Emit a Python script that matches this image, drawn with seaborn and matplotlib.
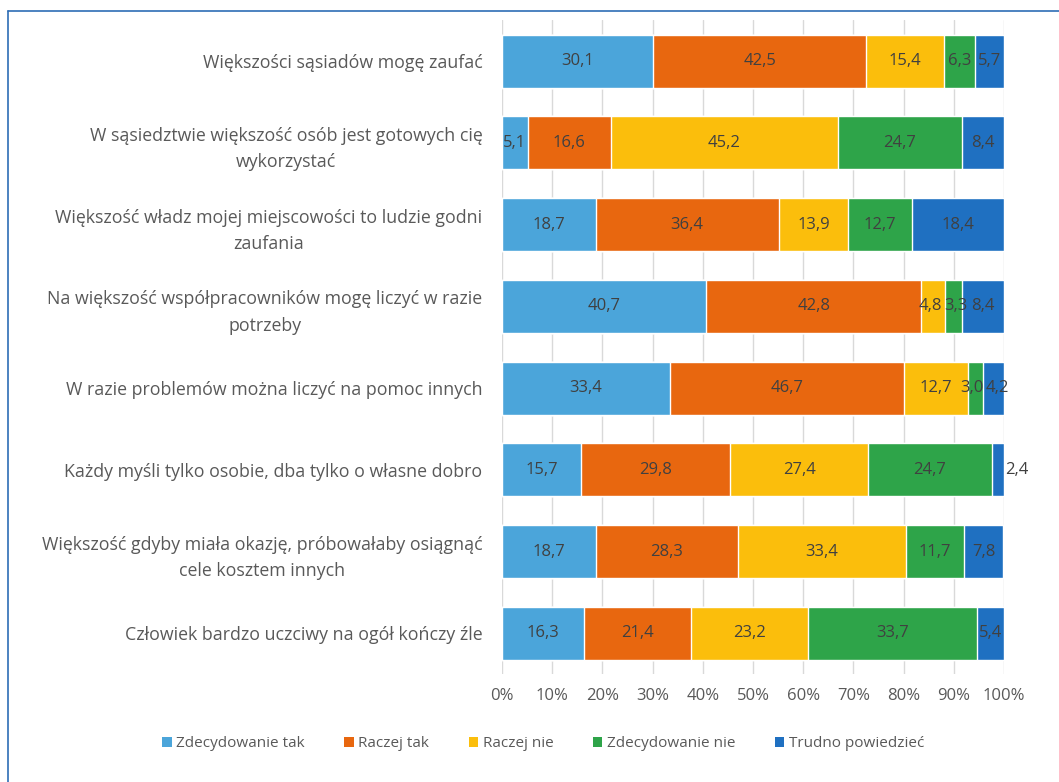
import numpy as np
import pandas as pd
import matplotlib
matplotlib.use("Agg")
import matplotlib.pyplot as plt
import seaborn as sns
from matplotlib.patches import Patch
from matplotlib.lines import Line2D

categories = [
    "Większości sąsiadów mogę zaufać",
    "W sąsiedztwie większość osób jest gotowych cię\nwykorzystać",
    "Większość władz mojej miejscowości to ludzie godni\nzaufania",
    "Na większość współpracowników mogę liczyć w razie\npotrzeby",
    "W razie problemów można liczyć na pomoc innych",
    "Każdy myśli tylko osobie, dba tylko o własne dobro",
    "Większość gdyby miała okazję, próbowałaby osiągnąć\ncele kosztem innych",
    "Człowiek bardzo uczciwy na ogół kończy źle",
]
series_names = ["Zdecydowanie tak", "Raczej tak", "Raczej nie", "Zdecydowanie nie", "Trudno powiedzieć"]
zdecydowanie_tak = [30.1, 5.1, 18.7, 40.7, 33.4, 15.7, 18.7, 16.3]
raczej_tak = [42.5, 16.6, 36.4, 42.8, 46.7, 29.8, 28.3, 21.4]
raczej_nie = [15.4, 45.2, 13.9, 4.8, 12.7, 27.4, 33.4, 23.2]
zdecydowanie_nie = [6.3, 24.7, 12.7, 3.3, 3.0, 24.7, 11.7, 33.7]
trudno = [5.7, 8.4, 18.4, 8.4, 4.2, 2.4, 7.8, 5.4]
tick_values = [0, 10, 20, 30, 40, 50, 60, 70, 80, 90, 100]

colors = ["#4BA5DA", "#E8670F", "#FBBE0C", "#2EA449", "#1F70C1"]
text_gray = "#595959"

sns.set_theme(style="white")
plt.rcParams["font.family"] = ["Open Sans", "DejaVu Sans"]

values = np.array([zdecydowanie_tak, raczej_tak, raczej_nie, zdecydowanie_nie, trudno])
cum = np.cumsum(values, axis=0)

fig = plt.figure(figsize=(10.59, 7.82), dpi=100)
ax = fig.add_axes([0.474, 0.138, 0.474, 0.836])

for i in range(len(series_names) - 1, -1, -1):
    df = pd.DataFrame({"cat": categories, "val": cum[i]})
    sns.barplot(data=df, y="cat", x="val", orient="h", color=colors[i],
                saturation=1, width=0.65, ax=ax, zorder=2)

ax.set_xlim(0, 100)
px_per_unit = 0.474 * 1059 / 100.0

last = len(series_names) - 1
for j in range(len(categories)):
    labels, centers, widths = [], [], []
    outside = None
    for i in range(len(series_names)):
        v = values[i, j]
        label = f"{v:.1f}".replace(".", ",")
        if i == last and v < 3:
            outside = (cum[i, j], label)
            continue
        labels.append(label)
        centers.append(cum[i, j] - v / 2)
        widths.append((9.5 * (len(label) - 1) + 4.5) / px_per_unit)
    centers = np.array(centers, dtype=float)
    # gently spread labels that would collide (as the original does)
    for _ in range(30):
        for k in range(len(centers) - 1):
            need = (widths[k] + widths[k + 1]) / 2 + 1.5 / px_per_unit
            gap = centers[k + 1] - centers[k]
            if gap < need:
                d = (need - gap) / 2
                centers[k] -= d
                centers[k + 1] += d
    for lab, xc in zip(labels, centers):
        ax.text(xc, j, lab, ha="center", va="center", fontsize=12,
                color="#404040", zorder=5, clip_on=False)
    if outside is not None:
        ax.text(outside[0] + 0.3, j, outside[1], ha="left", va="center",
                fontsize=12, color="#404040", zorder=5, clip_on=False)

ax.set_xticks(tick_values)
ax.set_xticklabels([f"{t}%" for t in tick_values])
ax.set_xlabel("")
ax.set_ylabel("")
ax.grid(axis="x", color="#D9D9D9", linewidth=1, zorder=0)
ax.set_axisbelow(True)
for s in ax.spines.values():
    s.set_visible(False)
ax.tick_params(axis="x", length=0, labelsize=12, colors=text_gray, pad=10)
ax.tick_params(axis="y", length=0, labelsize=12.8, colors=text_gray, pad=14)
for lab in ax.get_yticklabels():
    lab.set_multialignment("center")
    lab.set_linespacing(1.6)
    lab.set_color(text_gray)
for lab in ax.get_xticklabels():
    lab.set_color(text_gray)

handles = [Patch(facecolor=c, edgecolor="none") for c in colors]
fig.legend(handles, series_names, loc="center", bbox_to_anchor=(0.513, 0.049), ncol=5,
           frameon=False, fontsize=11, handlelength=0.6, handleheight=0.6,
           handletextpad=0.3, columnspacing=2.6, labelcolor=text_gray)

# frame lines (top and left)
fig.add_artist(Line2D([8 / 1059, 8 / 1059], [0, 1 - 11 / 782], color="#2E6DB5", linewidth=1.2,
                      transform=fig.transFigure))
fig.add_artist(Line2D([8 / 1059, 1], [1 - 11 / 782, 1 - 11 / 782], color="#2E6DB5", linewidth=1.2,
                      transform=fig.transFigure))

fig.savefig("out.png", dpi=100)
